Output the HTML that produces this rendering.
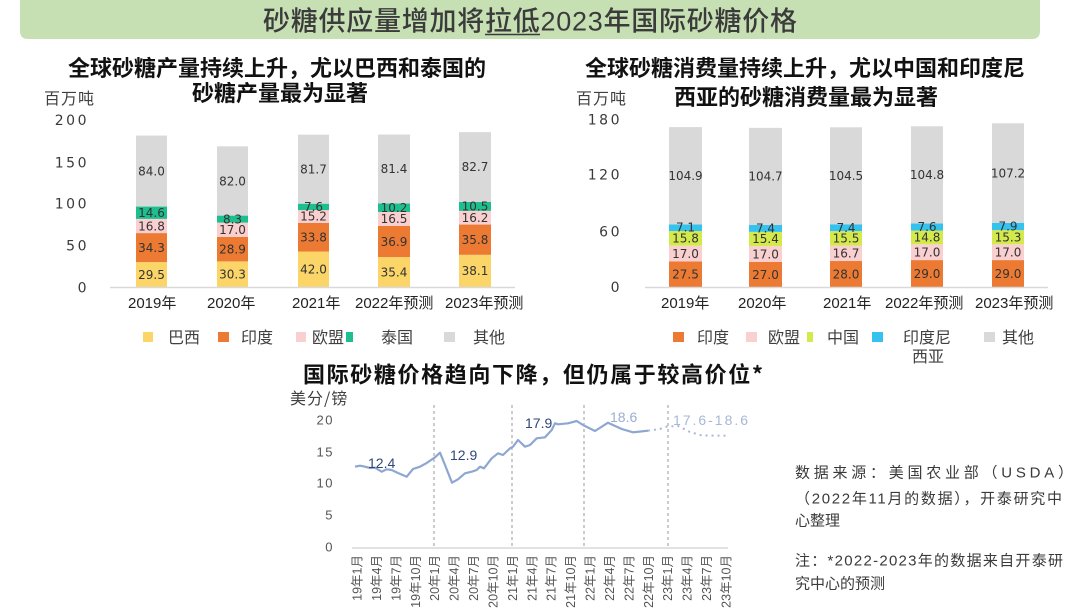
<!DOCTYPE html>
<html>
<head>
<meta charset="utf-8">
<style>
html,body{margin:0;padding:0;background:#fff;}
svg{display:block;}
text{font-family:"Liberation Sans","Noto Sans CJK SC",sans-serif;}
.cjk{font-family:"Noto Sans CJK SC","WenQuanYi Zen Hei",sans-serif;}
.num{font-family:"DejaVu Sans","Liberation Sans",sans-serif;font-size:12px;fill:#333;text-anchor:middle;}
.tick{font-family:"DejaVu Sans","Liberation Sans",sans-serif;font-size:14px;fill:#3a3a3a;text-anchor:end;letter-spacing:2.5px;}
.xl{font-family:"Liberation Sans","Noto Sans CJK SC",sans-serif;font-size:15px;fill:#222;}
.lg{font-family:"Noto Sans CJK SC",sans-serif;font-size:16px;fill:#404040;}
.ct{font-family:"Noto Sans CJK SC",sans-serif;font-size:22px;font-weight:bold;fill:#111;text-anchor:middle;}
.rx{font-family:"Liberation Sans","Noto Sans CJK SC",sans-serif;font-size:12.5px;fill:#555;text-anchor:end;}
.src{font-family:"Liberation Sans","Noto Sans CJK SC",sans-serif;font-size:15px;fill:#3a3a3a;}
</style>
</head>
<body>
<svg width="1080" height="608" viewBox="0 0 1080 608" xmlns="http://www.w3.org/2000/svg">
<rect width="1080" height="608" fill="#fff"/>

<!-- Title bar -->
<path d="M20,0 H1040 V31 Q1040,39 1032,39 H28 Q20,39 20,31 Z" fill="#c6e0b4"/>
<text x="263" y="30.5" font-size="27" font-weight="500" fill="#3b3b3b" textLength="534" lengthAdjust="spacing">砂糖供应量增加将拉低2023年国际砂糖价格</text>
<line x1="485" y1="34.5" x2="540" y2="34.5" stroke="#3b3b3b" stroke-width="1.5"/>

<!-- ================= LEFT CHART ================= -->
<text class="ct" x="277" y="76">全球砂糖产量持续上升，尤以巴西和泰国的</text>
<text class="ct" x="280" y="101">砂糖产量最为显著</text>
<text class="lg" x="44" y="104" letter-spacing="1">百万吨</text>

<text class="tick" x="89" y="125">200</text>
<text class="tick" x="89" y="167.5">150</text>
<text class="tick" x="89" y="208.5">100</text>
<text class="tick" x="89" y="250.5">50</text>
<text class="tick" x="89" y="292.5">0</text>

<!-- bars 2019 -->
<g>
<rect x="136" y="262.07" width="31" height="24.93" fill="#fbd568"/>
<rect x="136" y="233.09" width="31" height="28.98" fill="#ec7a33"/>
<rect x="136" y="218.89" width="31" height="14.2" fill="#f9cfd0"/>
<rect x="136" y="206.56" width="31" height="12.34" fill="#1ebf8f"/>
<rect x="136" y="135.58" width="31" height="70.98" fill="#d9d9d9"/>
<text class="num" x="151.5" y="279">29.5</text>
<text class="num" x="151.5" y="252">34.3</text>
<text class="num" x="151.5" y="230.5">16.8</text>
<text class="num" x="151.5" y="217">14.6</text>
<text class="num" x="151.5" y="175.5">84.0</text>
</g>
<!-- 2020 -->
<g>
<rect x="217" y="261.4" width="31" height="25.6" fill="#fbd568"/>
<rect x="217" y="236.98" width="31" height="24.42" fill="#ec7a33"/>
<rect x="217" y="222.61" width="31" height="14.37" fill="#f9cfd0"/>
<rect x="217" y="215.6" width="31" height="7.01" fill="#1ebf8f"/>
<rect x="217" y="146.31" width="31" height="69.29" fill="#d9d9d9"/>
<text class="num" x="232.5" y="278.5">30.3</text>
<text class="num" x="232.5" y="253.5">28.9</text>
<text class="num" x="232.5" y="234">17.0</text>
<text class="num" x="232.5" y="223.5">8.3</text>
<text class="num" x="232.5" y="185.5">82.0</text>
</g>
<!-- 2021 -->
<g>
<rect x="298" y="251.51" width="31" height="35.49" fill="#fbd568"/>
<rect x="298" y="222.95" width="31" height="28.56" fill="#ec7a33"/>
<rect x="298" y="210.1" width="31" height="12.85" fill="#f9cfd0"/>
<rect x="298" y="203.68" width="31" height="6.42" fill="#1ebf8f"/>
<rect x="298" y="134.65" width="31" height="69.03" fill="#d9d9d9"/>
<text class="num" x="313.5" y="273.5">42.0</text>
<text class="num" x="313.5" y="241.5">33.8</text>
<text class="num" x="313.5" y="220.5">15.2</text>
<text class="num" x="313.5" y="211">7.6</text>
<text class="num" x="313.5" y="173.5">81.7</text>
</g>
<!-- 2022 -->
<g>
<rect x="378" y="257.09" width="32" height="29.91" fill="#fbd568"/>
<rect x="378" y="225.91" width="32" height="31.18" fill="#ec7a33"/>
<rect x="378" y="211.96" width="32" height="13.95" fill="#f9cfd0"/>
<rect x="378" y="203.34" width="32" height="8.62" fill="#1ebf8f"/>
<rect x="378" y="134.56" width="32" height="68.78" fill="#d9d9d9"/>
<text class="num" x="394" y="276.5">35.4</text>
<text class="num" x="394" y="246">36.9</text>
<text class="num" x="394" y="223">16.5</text>
<text class="num" x="394" y="212">10.2</text>
<text class="num" x="394" y="173">81.4</text>
</g>
<!-- 2023 -->
<g>
<rect x="459" y="254.81" width="32" height="32.19" fill="#fbd568"/>
<rect x="459" y="224.55" width="32" height="30.26" fill="#ec7a33"/>
<rect x="459" y="210.87" width="32" height="13.68" fill="#f9cfd0"/>
<rect x="459" y="201.99" width="32" height="8.88" fill="#1ebf8f"/>
<rect x="459" y="132.11" width="32" height="69.88" fill="#d9d9d9"/>
<text class="num" x="475" y="275">38.1</text>
<text class="num" x="475" y="244">35.8</text>
<text class="num" x="475" y="222">16.2</text>
<text class="num" x="475" y="210.5">10.5</text>
<text class="num" x="475" y="171">82.7</text>
</g>
<line x1="110" y1="287.5" x2="515" y2="287.5" stroke="#d9d9d9" stroke-width="1.5"/>

<text class="xl" x="128" y="308">2019年</text>
<text class="xl" x="207" y="308">2020年</text>
<text class="xl" x="292" y="308">2021年</text>
<text class="xl" x="355" y="308">2022年预测</text>
<text class="xl" x="445" y="308">2023年预测</text>

<rect x="143" y="332" width="10" height="10" fill="#fbd568"/>
<text class="lg" x="168" y="343">巴西</text>
<rect x="218" y="332" width="11" height="10" fill="#ec7a33"/>
<text class="lg" x="241" y="343">印度</text>
<rect x="296" y="332" width="10" height="10" fill="#f9cfd0"/>
<text class="lg" x="312" y="343">欧盟</text>
<rect x="346" y="332" width="7" height="10" fill="#1ebf8f"/>
<text class="lg" x="381" y="343">泰国</text>
<rect x="444" y="332" width="11" height="10" fill="#d9d9d9"/>
<text class="lg" x="473" y="343">其他</text>

<!-- ================= RIGHT CHART ================= -->
<text class="ct" x="805" y="76">全球砂糖消费量持续上升，尤以中国和印度尼</text>
<text class="ct" x="806" y="105">西亚的砂糖消费量最为显著</text>
<text class="lg" x="576" y="104" letter-spacing="1">百万吨</text>

<text class="tick" x="622" y="124.5">180</text>
<text class="tick" x="622" y="179.5">120</text>
<text class="tick" x="622" y="236.5">60</text>
<text class="tick" x="622" y="292">0</text>

<!-- 2019 -->
<g>
<rect x="669" y="261.48" width="33" height="25.52" fill="#ec7a33"/>
<rect x="669" y="245.7" width="33" height="15.78" fill="#f9cfd0"/>
<rect x="669" y="231.04" width="33" height="14.66" fill="#d4ea4c"/>
<rect x="669" y="224.45" width="33" height="6.59" fill="#36c2ee"/>
<rect x="669" y="127.11" width="33" height="97.34" fill="#d9d9d9"/>
<text class="num" x="685.5" y="278.5">27.5</text>
<text class="num" x="685.5" y="258">17.0</text>
<text class="num" x="685.5" y="242.5">15.8</text>
<text class="num" x="685.5" y="231.5">7.1</text>
<text class="num" x="685.5" y="180">104.9</text>
</g>
<!-- 2020 -->
<g>
<rect x="749" y="261.94" width="33" height="25.06" fill="#ec7a33"/>
<rect x="749" y="246.17" width="33" height="15.77" fill="#f9cfd0"/>
<rect x="749" y="231.88" width="33" height="14.29" fill="#d4ea4c"/>
<rect x="749" y="225.01" width="33" height="6.87" fill="#36c2ee"/>
<rect x="749" y="127.85" width="33" height="97.16" fill="#d9d9d9"/>
<text class="num" x="765.5" y="279">27.0</text>
<text class="num" x="765.5" y="258.5">17.0</text>
<text class="num" x="765.5" y="243">15.4</text>
<text class="num" x="765.5" y="232.5">7.4</text>
<text class="num" x="765.5" y="180.5">104.7</text>
</g>
<!-- 2021 -->
<g>
<rect x="830" y="261.02" width="32" height="25.98" fill="#ec7a33"/>
<rect x="830" y="245.52" width="32" height="15.5" fill="#f9cfd0"/>
<rect x="830" y="231.13" width="32" height="14.39" fill="#d4ea4c"/>
<rect x="830" y="224.27" width="32" height="6.86" fill="#36c2ee"/>
<rect x="830" y="127.29" width="32" height="96.98" fill="#d9d9d9"/>
<text class="num" x="846" y="278.5">28.0</text>
<text class="num" x="846" y="257.5">16.7</text>
<text class="num" x="846" y="242.5">15.5</text>
<text class="num" x="846" y="232">7.4</text>
<text class="num" x="846" y="180">104.5</text>
</g>
<!-- 2022 -->
<g>
<rect x="911" y="260.09" width="32" height="26.91" fill="#ec7a33"/>
<rect x="911" y="244.31" width="32" height="15.78" fill="#f9cfd0"/>
<rect x="911" y="230.58" width="32" height="13.73" fill="#d4ea4c"/>
<rect x="911" y="223.52" width="32" height="7.06" fill="#36c2ee"/>
<rect x="911" y="126.27" width="32" height="97.25" fill="#d9d9d9"/>
<text class="num" x="927" y="278">29.0</text>
<text class="num" x="927" y="256.5">17.0</text>
<text class="num" x="927" y="241.5">14.8</text>
<text class="num" x="927" y="231">7.6</text>
<text class="num" x="927" y="179">104.8</text>
</g>
<!-- 2023 -->
<g>
<rect x="992" y="260.09" width="32" height="26.91" fill="#ec7a33"/>
<rect x="992" y="244.31" width="32" height="15.78" fill="#f9cfd0"/>
<rect x="992" y="230.11" width="32" height="14.2" fill="#d4ea4c"/>
<rect x="992" y="222.78" width="32" height="7.33" fill="#36c2ee"/>
<rect x="992" y="123.3" width="32" height="99.48" fill="#d9d9d9"/>
<text class="num" x="1008" y="278">29.0</text>
<text class="num" x="1008" y="256.5">17.0</text>
<text class="num" x="1008" y="241.5">15.3</text>
<text class="num" x="1008" y="230.5">7.9</text>
<text class="num" x="1008" y="177.5">107.2</text>
</g>
<line x1="645" y1="287.5" x2="1048" y2="287.5" stroke="#d9d9d9" stroke-width="1.5"/>

<text class="xl" x="661" y="308">2019年</text>
<text class="xl" x="738" y="308">2020年</text>
<text class="xl" x="823" y="308">2021年</text>
<text class="xl" x="885" y="308">2022年预测</text>
<text class="xl" x="975" y="308">2023年预测</text>

<rect x="673" y="332" width="11" height="10" fill="#ec7a33"/>
<text class="lg" x="697" y="343">印度</text>
<rect x="746" y="332" width="11" height="10" fill="#f9cfd0"/>
<text class="lg" x="768" y="343">欧盟</text>
<rect x="807" y="332" width="6" height="10" fill="#d4ea4c"/>
<text class="lg" x="827" y="343">中国</text>
<rect x="872" y="332" width="11" height="10" fill="#36c2ee"/>
<text class="lg" x="903" y="343">印度尼</text>
<text class="lg" x="912" y="362">西亚</text>
<rect x="984" y="332" width="11" height="10" fill="#d9d9d9"/>
<text class="lg" x="1002" y="343">其他</text>

<!-- ================= LINE CHART ================= -->
<text x="303" y="382.5" font-size="22" font-weight="bold" fill="#111" class="cjk" textLength="460" lengthAdjust="spacing">国际砂糖价格趋向下降，但仍属于较高价位*</text>
<text class="lg" x="290" y="404" letter-spacing="1">美分/镑</text>

<g font-family="DejaVu Sans, Liberation Sans, sans-serif" font-size="13" fill="#555" text-anchor="end" letter-spacing="1.5">
<text x="334" y="424.5">20</text>
<text x="334" y="456.5">15</text>
<text x="334" y="487.5">10</text>
<text x="334" y="519.5">5</text>
<text x="334" y="551.5">0</text>
</g>

<g stroke="#9a9a9a" stroke-width="1" stroke-dasharray="3,3">
<line x1="434" y1="405" x2="434" y2="548"/>
<line x1="512" y1="405" x2="512" y2="548"/>
<line x1="584" y1="405" x2="584" y2="548"/>
<line x1="668" y1="405" x2="668" y2="548"/>
</g>
<line x1="352" y1="548" x2="728" y2="548" stroke="#d9d9d9" stroke-width="1.5"/>

<polyline fill="none" stroke="#8ea6d2" stroke-width="2.2" stroke-linejoin="round" points="355,466.7 360,465.7 365,466.7 370,468 375,467.7 381.7,471.7 386.7,469.3 391.7,470 398,473 406.7,476.7 413,469 420,466.7 426.7,463 435,457.3 440,452.7 445,465 452,482.7 458,479.3 465,473.3 471.7,471.7 476.7,470 480,466.7 484,468.3 491.7,458.3 498,453.3 503,455 510,448.3 513,446.7 518,440 525,446.7 530,445 536.7,438.3 545,437.3 551.7,430 555,423.3 558,424.3 568,423.3 576.7,421 583,425 595,431 608,422.7 621.7,429 633,432.3 648,430.7"/>
<polyline fill="none" stroke="#a8b8da" stroke-width="2" stroke-dasharray="2,4" points="648,430.7 660,429 667,426.5 678,426 690,432 702,435.5 727,435.7"/>

<g font-family="DejaVu Sans, Liberation Sans, sans-serif" font-size="14">
<text x="368" y="468" fill="#2f4776">12.4</text>
<text x="450" y="460" fill="#2f4776">12.9</text>
<text x="525" y="428" fill="#2f4776">17.9</text>
<text x="610" y="422" fill="#9aaed3">18.6</text>
<text x="673" y="425" fill="#a9b7d6" textLength="75" lengthAdjust="spacing">17.6-18.6</text>
</g>

<!-- rotated x labels -->
<g class="rx">
<text transform="translate(361.5,555) rotate(-90)">19年1月</text>
<text transform="translate(380.9,555) rotate(-90)">19年4月</text>
<text transform="translate(400.3,555) rotate(-90)">19年7月</text>
<text transform="translate(419.8,555) rotate(-90)">19年10月</text>
<text transform="translate(439.2,555) rotate(-90)">20年1月</text>
<text transform="translate(458.6,555) rotate(-90)">20年4月</text>
<text transform="translate(478,555) rotate(-90)">20年7月</text>
<text transform="translate(497.4,555) rotate(-90)">20年10月</text>
<text transform="translate(516.9,555) rotate(-90)">21年1月</text>
<text transform="translate(536.3,555) rotate(-90)">21年4月</text>
<text transform="translate(555.7,555) rotate(-90)">21年7月</text>
<text transform="translate(575.1,555) rotate(-90)">21年10月</text>
<text transform="translate(594.5,555) rotate(-90)">22年1月</text>
<text transform="translate(614,555) rotate(-90)">22年4月</text>
<text transform="translate(633.4,555) rotate(-90)">22年7月</text>
<text transform="translate(652.8,555) rotate(-90)">22年10月</text>
<text transform="translate(672.2,555) rotate(-90)">23年1月</text>
<text transform="translate(691.6,555) rotate(-90)">23年4月</text>
<text transform="translate(711.1,555) rotate(-90)">23年7月</text>
<text transform="translate(730.5,555) rotate(-90)">23年10月</text>
</g>

<!-- Source text -->
<text class="src" x="795" y="477.5" textLength="278" lengthAdjust="spacing">数据来源：美国农业部（USDA）</text>
<text class="src" x="795" y="503.5" textLength="267" lengthAdjust="spacing">（2022年11月的数据），开泰研究中</text>
<text class="src" x="795" y="525.5">心整理</text>
<text class="src" x="795" y="565.5" textLength="268" lengthAdjust="spacing">注：*2022-2023年的数据来自开泰研</text>
<text class="src" x="795" y="588.5">究中心的预测</text>
</svg>
</body>
</html>
